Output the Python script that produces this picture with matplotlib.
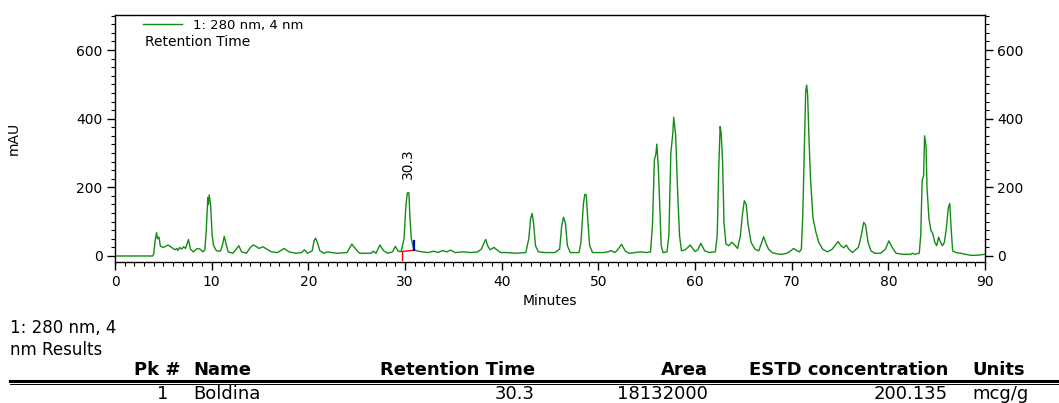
import matplotlib
matplotlib.use("Agg")
import matplotlib.pyplot as plt
from matplotlib.ticker import MultipleLocator, FixedLocator
from matplotlib.lines import Line2D

# ---------------- data ----------------
minutes = [
    0.0, 3.9, 4.0, 4.15, 4.3, 4.4, 4.55, 4.7, 5.0, 5.5, 5.8, 6.2, 6.4, 6.5, 6.7, 6.9,
    7.1, 7.3, 7.6, 7.8, 8.1, 8.5, 8.8, 9.1, 9.3, 9.45, 9.6, 9.65, 9.75, 9.9, 10.05,
    10.2, 10.5, 10.9, 11.1, 11.3, 11.5, 11.7, 12.2, 12.6, 12.8, 13.1, 13.6, 14.0,
    14.3, 14.6, 14.9, 15.3, 15.7, 16.2, 16.8, 17.5, 18.0, 18.7, 19.3, 19.6, 19.9,
    20.4, 20.6, 20.75, 20.9, 21.2, 21.6, 22.0, 22.4, 23.0, 24.0, 24.5, 24.9, 25.3,
    26.5, 26.7, 27.0, 27.4, 27.8, 28.2, 28.7, 29.0, 29.3, 29.6, 29.9, 30.1, 30.25,
    30.4, 30.5, 30.65, 30.9, 31.2, 31.8, 32.4, 33.0, 33.4, 33.9, 34.3, 34.7, 35.2,
    36.0, 36.8, 37.5, 37.9, 38.2, 38.35, 38.55, 38.8, 39.2, 39.5, 39.9, 40.5, 41.5,
    42.5, 42.8, 43.0, 43.15, 43.3, 43.5, 43.8, 44.5, 45.5, 46.0, 46.2, 46.4, 46.6,
    46.8, 47.1, 48.0, 48.2, 48.45, 48.6, 48.75, 48.9, 49.1, 49.4, 50.5, 51.0, 51.3,
    51.7, 52.0, 52.4, 52.8, 53.2, 53.8, 54.3, 55.0, 55.4, 55.6, 55.8, 55.95, 56.05,
    56.2, 56.35, 56.5, 56.7, 57.1, 57.3, 57.5, 57.7, 57.8, 58.0, 58.2, 58.4, 58.6,
    59.0, 59.5, 60.0, 60.3, 60.6, 61.0, 61.5, 62.1, 62.3, 62.45, 62.6, 62.7, 62.85,
    63.0, 63.2, 63.5, 63.8, 64.1, 64.4, 64.7, 64.9, 65.1, 65.3, 65.5, 65.8, 66.2,
    66.6, 66.9, 67.1, 67.3, 67.6, 68.0, 68.5, 69.0, 69.5, 69.9, 70.2, 70.5, 70.8,
    71.0, 71.15, 71.3, 71.45, 71.55, 71.65, 71.8, 71.95, 72.2, 72.5, 72.8, 73.2,
    73.7, 74.2, 74.6, 74.8, 75.1, 75.4, 75.65, 75.9, 76.3, 76.6, 76.9, 77.2, 77.45,
    77.65, 77.9, 78.2, 78.6, 79.2, 79.7, 80.05, 80.4, 80.8, 81.5, 82.3, 82.5, 82.7,
    83.2, 83.35, 83.5, 83.65, 83.75, 83.9, 84.0, 84.2, 84.4, 84.6, 84.8, 85.0, 85.2,
    85.4, 85.6, 85.8, 86.0, 86.2, 86.35, 86.5, 86.65, 87.0, 87.5, 88.0, 88.5, 89.0,
    89.5, 90.0,
]
mau = [
    0, 0, 5, 45, 68, 50, 55, 28, 25, 32, 26, 18, 22, 16, 25, 20,
    27, 22, 48, 20, 12, 22, 20, 12, 18, 80, 170, 150, 178, 145, 60,
    30, 15, 14, 30, 57, 35, 12, 8, 22, 30, 12, 8, 25,
    32, 28, 22, 27, 20, 12, 10, 22, 12, 8, 10, 18, 8,
    15, 45, 52, 42, 15, 8, 12, 10, 8, 10, 35, 20, 8,
    8, 14, 8, 32, 15, 8, 12, 28, 14, 13, 50, 150, 184,
    184, 120, 50, 20, 15, 12, 10, 14, 10, 16, 12, 17, 10,
    12, 10, 12, 20, 40, 48, 30, 18, 25, 18, 10, 10, 8,
    10, 50, 110, 124, 95, 30, 12, 10, 10, 20, 85, 113, 95,
    30, 10, 10, 40, 150, 180, 178, 110, 30, 10, 10, 12, 16,
    10, 18, 34, 14, 8, 10, 12, 10, 12, 90, 280, 296, 326,
    260, 150, 30, 10, 12, 60, 300, 355, 404, 352, 190, 60, 15,
    18, 32, 13, 18, 37, 15, 10, 12, 60, 250, 377, 360, 280,
    95, 35, 30, 40, 32, 22, 60, 120, 161, 150, 90, 40, 20,
    15, 40, 56, 40, 20, 10, 6, 5, 8, 15, 22, 16, 12,
    20, 120, 300, 480, 498, 470, 335, 225, 112, 70, 40, 20,
    12, 20, 35, 42, 30, 24, 32, 20, 10, 18, 25, 60, 98,
    90, 40, 15, 8, 8, 20, 44, 25, 8, 5, 5, 8, 5,
    8, 60, 220, 235, 350, 320, 200, 110, 75, 65, 40, 30, 55,
    40, 30, 40, 80, 140, 153, 80, 15, 10, 8, 5, 2, 2,
    3, 5,
]

x_ticks = [0, 10, 20, 30, 40, 50, 60, 70, 80, 90]
y_ticks = [0, 200, 400, 600]

peak_label = "30.3"
peak_rt = 30.3
peak_height = 184
integ_start = 29.7
integ_end = 30.9
integ_baseline = [13, 17]
integ_end_top = 45

legend_label = "1: 280 nm, 4 nm"
legend_sub = "Retention Time"
x_label = "Minutes"
y_label = "mAU"

results_title = ["1: 280 nm, 4", "nm Results"]
table_header = ["Pk #", "Name", "Retention Time", "Area", "ESTD concentration", "Units"]
table_row = ["1", "Boldina", "30.3", "18132000", "200.135", "mcg/g"]

# ---------------- layout ----------------
W, H = 1059, 403
fig = plt.figure(figsize=(W / 100, H / 100), dpi=100)
fig.patch.set_facecolor("white")


def fx(px):
    return px / W


def fy(py):
    return 1 - py / H


green = "#138c13"
ax = fig.add_axes([fx(115), fy(262), fx(985) - fx(115), fy(15) - fy(262)])
ax.plot(minutes, mau, color=green, lw=1.0)
ax.set_xlim(0, 90)
ax.set_ylim(-17.5, 702)

ax.xaxis.set_major_locator(FixedLocator(x_ticks))
ax.xaxis.set_minor_locator(MultipleLocator(1))
ax.yaxis.set_major_locator(FixedLocator(y_ticks))
ax.yaxis.set_minor_locator(MultipleLocator(25))
ax.tick_params(axis="both", which="major", direction="out", length=6, width=1.0,
               labelsize=10, pad=3, colors="black")
ax.tick_params(axis="both", which="minor", direction="out", length=3, width=0.8)
ax.tick_params(axis="y", which="both", left=True, right=True, labelleft=True, labelright=True)
ax.tick_params(axis="x", which="both", top=False)
for s in ax.spines.values():
    s.set_linewidth(1.0)

ax.set_xlabel(x_label, fontsize=10, labelpad=4)
ax.set_ylabel(y_label, fontsize=10, labelpad=40)

# peak annotation and integration markers
ax.annotate(peak_label, xy=(peak_rt, peak_height), xytext=(0, 10),
            textcoords="offset points", rotation=90, ha="center", va="bottom", fontsize=10)
ax.plot([integ_start, integ_start], [integ_baseline[0], -12], color="red", lw=1.0)
ax.plot([integ_start, integ_end], integ_baseline, color="red", lw=1.0)
ax.plot([integ_end, integ_end], [integ_baseline[1], integ_end_top], color="#0000cc", lw=1.6)

# legend
h = Line2D([], [], color=green, lw=1.0)
leg = ax.legend([h], [legend_label], loc="upper left", bbox_to_anchor=(0.026, 1.005),
                frameon=False, fontsize=9.5, handlelength=3.0, handletextpad=0.8,
                borderaxespad=0.0)
fig.text(fx(145), fy(42), legend_sub, fontsize=10, ha="left", va="center")

# results section
narrow = ["Liberation Sans Narrow", "DejaVu Sans"]
fig.text(fx(10), fy(328), results_title[0], fontsize=12, family=narrow, ha="left", va="center")
fig.text(fx(10), fy(350), results_title[1], fontsize=12, family=narrow, ha="left", va="center")

header_x = [180, 193, 535, 708, 948, 972]
row_x = [168, 193, 535, 708, 948, 972]
aligns = ["right", "left", "right", "right", "right", "left"]
for txt, x, a in zip(table_header, header_x, aligns):
    fig.text(fx(x), fy(370), txt, fontsize=13, family=narrow, fontweight="bold",
             ha=a, va="center")
for txt, x, a in zip(table_row, row_x, aligns):
    fig.text(fx(x), fy(394), txt, fontsize=13, family=narrow, ha=a, va="center")

fig.add_artist(Line2D([fx(10), fx(1059)], [fy(381), fy(381)], color="black", lw=2.2))
fig.add_artist(Line2D([fx(10), fx(1059)], [fy(384), fy(384)], color="black", lw=0.7))

fig.savefig("out.png", dpi=100)
